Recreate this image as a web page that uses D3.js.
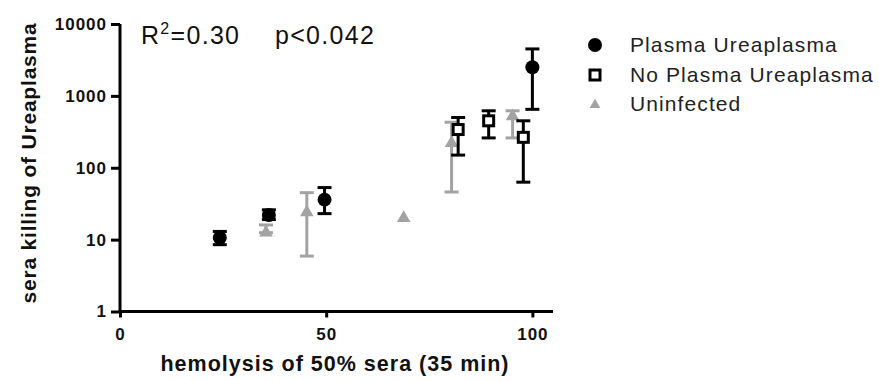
<!DOCTYPE html>
<html>
<head>
<meta charset="utf-8">
<script src="https://cdn.jsdelivr.net/npm/d3@7"></script>
<style>
body { margin: 0; background: #fff; }
text { font-family: "Liberation Sans", Arial, sans-serif; }
</style>
</head>
<body>
<script>
// series values: hemolysis (x), killing (y), error bar low/high
var plasma_x = [24.2, 36.1, 49.6, 100];
var plasma_y = [10.6, 22, 36, 2500];
var plasma_lo = [8.5, 19, 23, 650];
var plasma_hi = [13, 26, 53, 4500];

var noplasma_x = [82, 89.4, 97.8];
var noplasma_y = [340, 450, 265];
var noplasma_lo = [150, 260, 63];
var noplasma_hi = [500, 620, 450];

var uninf_x = [35.4, 45.3, 68.8, 80.4, 95.2];
var uninf_y = [12.5, 24, 20, 220, 520];
var uninf_lo = [12.5, 5.9, 20, 46, 260];
var uninf_hi = [16, 45, 20, 430, 620];

var series_names = ['Plasma Ureaplasma', 'No Plasma Ureaplasma', 'Uninfected'];
var x_ticks = [0, 50, 100];
var y_ticks = [1, 10, 100, 1000, 10000];

var width = 879, height = 381;
var grey = '#a3a3a3';

var svg = d3.select('body').append('svg').attr('width', width).attr('height', height);

var x = d3.scaleLinear().domain([0, 105]).range([120, 553]);
var y = d3.scaleLog().domain([1, 10000]).range([311.5, 24]);

// axes
var xaxis = svg.append('g').attr('transform', 'translate(0,311.5)')
	.call(d3.axisBottom(x).tickValues(x_ticks).tickSize(6).tickSizeOuter(0).tickFormat(d3.format('d')));
var yaxis = svg.append('g').attr('transform', 'translate(120,0)')
	.call(d3.axisLeft(y).tickValues(y_ticks).tickSize(9).tickSizeOuter(0).tickFormat(d3.format('d')));
[xaxis, yaxis].forEach(function(a) {
	a.select('.domain').attr('stroke', '#000').attr('stroke-width', 3);
	a.selectAll('.tick line').attr('stroke', '#000').attr('stroke-width', 3);
	a.selectAll('.tick text').attr('fill', '#111').attr('font-size', '17px').attr('font-weight', 'bold')
		.style('letter-spacing', '1px')
		.style('font-family', '"Liberation Sans", Arial, sans-serif');
});
xaxis.selectAll('.tick text').attr('y', 28.5).attr('dy', 0);
yaxis.selectAll('.tick text').attr('x', -13);
xaxis.select('.domain').attr('d', 'M' + (x(0) - 1.5) + ',0H' + x(105));
yaxis.select('.domain').attr('d', 'M0,' + (y(1) + 1.5) + 'V' + y(10000));

// axis titles
svg.append('text').text('hemolysis of 50% sera (35 min)')
	.attr('x', 335).attr('y', 371).attr('text-anchor', 'middle')
	.attr('font-size', '21.5px').attr('font-weight', 'bold').attr('fill', '#111')
	.style('letter-spacing', '1px');
svg.append('text').text('sera killing of Ureaplasma')
	.attr('transform', 'translate(36,163) rotate(270)').attr('text-anchor', 'middle')
	.attr('font-size', '21px').attr('font-weight', 'bold').attr('fill', '#111')
	.style('letter-spacing', '0.8px');

// stats
var stat = svg.append('text').attr('x', 141).attr('y', 44).attr('font-size', '25px').attr('fill', '#111')
	.style('letter-spacing', '1.3px');
stat.append('tspan').text('R');
stat.append('tspan').text('2').attr('font-size', '16px').attr('dy', -10);
stat.append('tspan').text('=0.30').attr('dy', 10);
stat.append('tspan').text('p<0.042').attr('x', 275);

function zip(xs, ys, lo, hi) {
	return xs.map(function(v, i) { return {x: v, y: ys[i], lo: lo[i], hi: hi[i]}; });
}

function errbars(data, color) {
	var g = svg.append('g').attr('stroke', color).attr('stroke-width', 3).attr('fill', 'none');
	data.filter(function(d) { return d.hi > d.lo; }).forEach(function(d) {
		var cx = x(d.x), w = 7;
		g.append('line').attr('x1', cx).attr('x2', cx).attr('y1', y(d.lo)).attr('y2', y(d.hi));
		g.append('line').attr('x1', cx - w).attr('x2', cx + w).attr('y1', y(d.lo)).attr('y2', y(d.lo));
		g.append('line').attr('x1', cx - w).attr('x2', cx + w).attr('y1', y(d.hi)).attr('y2', y(d.hi));
	});
}

var tri = d3.symbol().type(d3.symbolTriangle).size(80);

var uninf = zip(uninf_x, uninf_y, uninf_lo, uninf_hi);
var plasma = zip(plasma_x, plasma_y, plasma_lo, plasma_hi);
var noplasma = zip(noplasma_x, noplasma_y, noplasma_lo, noplasma_hi);

errbars(uninf, grey);
svg.append('g').selectAll('path').data(uninf).enter().append('path')
	.attr('d', tri).attr('fill', grey)
	.attr('transform', function(d) { return 'translate(' + x(d.x) + ',' + y(d.y) + ')'; });

errbars(plasma, '#000');
svg.append('g').selectAll('circle').data(plasma).enter().append('circle')
	.attr('cx', function(d) { return x(d.x); }).attr('cy', function(d) { return y(d.y); })
	.attr('r', 7).attr('fill', '#000');

errbars(noplasma, '#000');
svg.append('g').selectAll('rect').data(noplasma).enter().append('rect')
	.attr('x', function(d) { return x(d.x) - 5; }).attr('y', function(d) { return y(d.y) - 5; })
	.attr('width', 10).attr('height', 10).attr('fill', '#fff').attr('stroke', '#000').attr('stroke-width', 3);

// legend
var leg = svg.append('g').attr('transform', 'translate(595,0)');
var leg_y = [45, 75, 104];
leg.append('circle').attr('cx', 0).attr('cy', leg_y[0]).attr('r', 7).attr('fill', '#000');
leg.append('rect').attr('x', -5).attr('y', leg_y[1] - 5).attr('width', 10).attr('height', 10)
	.attr('fill', '#fff').attr('stroke', '#000').attr('stroke-width', 3);
leg.append('path').attr('d', d3.symbol().type(d3.symbolTriangle).size(50)).attr('fill', grey)
	.attr('transform', 'translate(0,' + (leg_y[2] + 1) + ')');
leg.selectAll('text.lab').data(series_names).enter().append('text').attr('class', 'lab')
	.text(function(d) { return d; })
	.attr('x', 35).attr('y', function(d, i) { return leg_y[i] + 7; })
	.attr('font-size', '21px').attr('fill', '#222')
	.style('letter-spacing', '1.1px');
</script>
</body>
</html>
